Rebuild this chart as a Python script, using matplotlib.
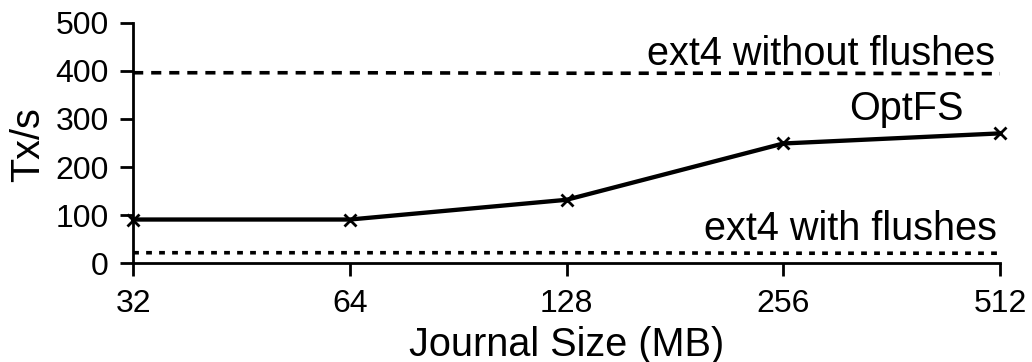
import matplotlib
matplotlib.use("Agg")
import matplotlib.pyplot as plt

plt.rcParams['font.family'] = ['Liberation Sans', 'DejaVu Sans']

journal_sizes = [32, 64, 128, 256, 512]
optfs = [91, 91, 132, 249, 270]
ext4_no_flush = [396, 396, 395, 395, 394]
ext4_flush = [22, 22, 22, 21, 21]
tick_labels = ['32', '64', '128', '256', '512']

fig = plt.figure(figsize=(10.32, 3.62), dpi=100)
ax = fig.add_axes([0.129, 0.2726, 0.840, 0.6647])

ax.plot(journal_sizes, ext4_no_flush, color='black', lw=2.6, linestyle=(0, (2.8, 2.2)))
ax.plot(journal_sizes, optfs, color='black', lw=3.1, marker='x', markersize=8.5,
        markeredgewidth=2.0, clip_on=False)
ax.plot(journal_sizes, ext4_flush, color='black', lw=2.6, linestyle=(0, (1.6, 2.0)))

# labels placed next to the lines
ax.text(0.7935, 412, 'ext4 without flushes', fontsize=28.5, ha='center', va='baseline',
        transform=ax.get_yaxis_transform())
ax.text(0.8916, 298, 'OptFS', fontsize=28.5, ha='center', va='baseline',
        transform=ax.get_yaxis_transform())
ax.text(0.828, 48.5, 'ext4 with flushes', fontsize=28.5, ha='center', va='baseline',
        transform=ax.get_yaxis_transform())

ax.set_xscale('log', base=2)
ax.set_xlim(32, 512)
ax.set_ylim(0, 500)
ax.set_xticks(journal_sizes)
ax.set_xticklabels(tick_labels)
ax.minorticks_off()
ax.set_yticks([0, 100, 200, 300, 400, 500])

ax.spines['top'].set_visible(False)
ax.spines['right'].set_visible(False)
for s in ['left', 'bottom']:
    ax.spines[s].set_linewidth(2)
ax.tick_params(direction='out', length=9.4, width=2, labelsize=23)
ax.tick_params(axis='x', pad=9)
ax.tick_params(axis='y', pad=8)

ax.set_xlabel('Journal Size (MB)', fontsize=28.5, labelpad=5)
fig.text(28 / 1032, 1 - 145 / 362, 'Tx/s', fontsize=28.5, rotation=90,
         ha='center', va='center')

fig.savefig('out.png', dpi=100)
